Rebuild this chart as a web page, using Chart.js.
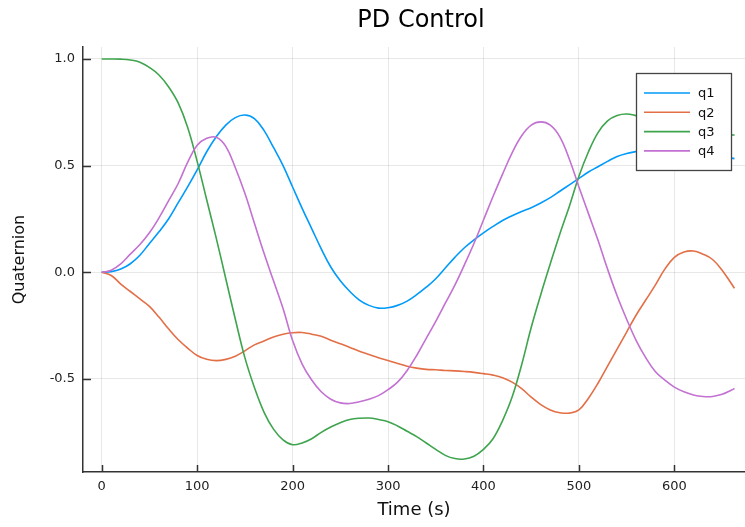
<!DOCTYPE html>
<html>
<head>
<meta charset="utf-8">
<script src="https://cdn.jsdelivr.net/npm/chart.js@4/dist/chart.umd.min.js"></script>
<style>
  html, body { margin: 0; padding: 0; background: #fff; }
  #wrap { width: 745px; height: 527px; }
</style>
</head>
<body>
<div id="wrap"><canvas id="chart" width="745" height="527"></canvas></div>
<script>
// tiempos (s) y series de cuaterniones
const times = [0, 10, 20, 30, 40, 50, 60, 70, 80, 90, 100, 110, 120, 130, 140, 150, 160, 170, 180, 190,
  200, 210, 220, 230, 240, 250, 260, 270, 280, 290, 300, 310, 320, 330, 340, 350, 360, 370, 380, 390,
  400, 410, 420, 430, 440, 450, 460, 470, 480, 490, 500, 510, 520, 530, 540, 550, 560, 570, 580, 590,
  600, 610, 620, 630, 640, 650, 660, 663];

const q1 = [0, 0.003, 0.015, 0.04, 0.08, 0.135, 0.19, 0.25, 0.325, 0.40, 0.48, 0.565, 0.635, 0.69, 0.725, 0.737, 0.72, 0.665, 0.585, 0.50,
  0.40, 0.30, 0.205, 0.11, 0.025, -0.04, -0.09, -0.13, -0.155, -0.168, -0.166, -0.155, -0.135, -0.105, -0.07, -0.03, 0.02, 0.07, 0.115, 0.152,
  0.185, 0.215, 0.243, 0.265, 0.285, 0.303, 0.325, 0.35, 0.38, 0.41, 0.44, 0.47, 0.495, 0.52, 0.543, 0.557, 0.566, 0.572, 0.577, 0.578,
  0.576, 0.571, 0.565, 0.558, 0.55, 0.542, 0.535, 0.533];

const q2 = [0, -0.015, -0.055, -0.09, -0.125, -0.16, -0.21, -0.265, -0.315, -0.355, -0.39, -0.408, -0.414, -0.408, -0.393, -0.368, -0.34, -0.322, -0.303, -0.29,
  -0.283, -0.282, -0.29, -0.30, -0.318, -0.335, -0.352, -0.37, -0.385, -0.40, -0.413, -0.427, -0.44, -0.449, -0.455, -0.457, -0.46, -0.462, -0.465, -0.469,
  -0.475, -0.482, -0.494, -0.515, -0.545, -0.585, -0.62, -0.645, -0.658, -0.66, -0.645, -0.59, -0.52, -0.44, -0.36, -0.28, -0.20, -0.13, -0.06, 0.015,
  0.07, 0.095, 0.10, 0.085, 0.06, 0.01, -0.055, -0.075];

const q3 = [1.0, 1.0, 0.999, 0.995, 0.985, 0.96, 0.925, 0.87, 0.795, 0.68, 0.52, 0.34, 0.16, -0.03, -0.22, -0.40, -0.54, -0.655, -0.735, -0.785,
  -0.808, -0.80, -0.78, -0.75, -0.725, -0.705, -0.69, -0.684, -0.683, -0.69, -0.70, -0.72, -0.745, -0.77, -0.80, -0.83, -0.858, -0.873, -0.875, -0.862,
  -0.83, -0.78, -0.695, -0.585, -0.433, -0.259, -0.105, 0.04, 0.18, 0.31, 0.45, 0.565, 0.655, 0.71, 0.735, 0.742, 0.734, 0.722, 0.71, 0.70,
  0.69, 0.68, 0.67, 0.662, 0.655, 0.648, 0.644, 0.643];

const q4 = [0, 0.01, 0.04, 0.085, 0.13, 0.185, 0.255, 0.335, 0.415, 0.515, 0.595, 0.628, 0.633, 0.59, 0.49, 0.37, 0.23, 0.09, -0.04, -0.17,
  -0.32, -0.43, -0.505, -0.56, -0.595, -0.612, -0.615, -0.607, -0.595, -0.578, -0.55, -0.515, -0.46, -0.39, -0.31, -0.23, -0.145, -0.06, 0.035, 0.135,
  0.245, 0.355, 0.46, 0.56, 0.64, 0.69, 0.705, 0.69, 0.635, 0.53, 0.40, 0.275, 0.15, 0.015, -0.11, -0.22, -0.32, -0.40, -0.465, -0.505,
  -0.538, -0.56, -0.575, -0.582, -0.582, -0.572, -0.552, -0.545];

const seriesNames = ["q1", "q2", "q3", "q4"];
const seriesColors = ["#009AFA", "#E36F47", "#3EA44E", "#C371D2"];
const xTicks = [0, 100, 200, 300, 400, 500, 600];
const yTicks = [-0.5, 0.0, 0.5, 1.0];

const FONT = "'DejaVu Sans', sans-serif";

const toPoints = (vals) => vals.map((v, i) => ({ x: times[i], y: v }));

// ticks hacia adentro, como en GR
const innerTicks = {
  id: "innerTicks",
  afterDatasetsDraw(chart) {
    const { ctx, chartArea, scales } = chart;
    ctx.save();
    ctx.strokeStyle = "#333";
    ctx.lineWidth = 1.5;
    ctx.beginPath();
    xTicks.forEach(v => {
      const px = Math.round(scales.x.getPixelForValue(v)) + 0.5;
      ctx.moveTo(px, chartArea.bottom);
      ctx.lineTo(px, chartArea.bottom - 7);
    });
    yTicks.forEach(v => {
      const py = Math.round(scales.y.getPixelForValue(v)) + 0.5;
      ctx.moveTo(chartArea.left, py);
      ctx.lineTo(chartArea.left + 8, py);
    });
    ctx.stroke();
    ctx.restore();
  }
};

// leyenda dentro del área del gráfico
const boxLegend = {
  id: "boxLegend",
  afterDatasetsDraw(chart) {
    const { ctx } = chart;
    const x0 = 636, y0 = 73, w = 95, h = 97;
    ctx.save();
    ctx.fillStyle = "#fff";
    ctx.fillRect(x0, y0, w, h);
    ctx.strokeStyle = "#444";
    ctx.lineWidth = 1.3;
    ctx.strokeRect(x0 + 0.5, y0 + 0.5, w, h);
    ctx.font = "13px " + FONT;
    ctx.textBaseline = "middle";
    chart.data.datasets.forEach((ds, i) => {
      const y = 93 + i * 19.3;
      ctx.strokeStyle = ds.borderColor;
      ctx.lineWidth = 1.6;
      ctx.beginPath();
      ctx.moveTo(644, y);
      ctx.lineTo(690, y);
      ctx.stroke();
      ctx.fillStyle = "#111";
      ctx.fillText(ds.label, 698, y + 1);
    });
    ctx.restore();
  }
};

const plotTitle = {
  id: "plotTitle",
  afterDraw(chart) {
    const { ctx } = chart;
    ctx.save();
    ctx.font = "24px " + FONT;
    ctx.fillStyle = "#000";
    ctx.textAlign = "center";
    ctx.textBaseline = "middle";
    ctx.fillText("PD Control", 421, 21);
    ctx.restore();
  }
};

const datasets = [q1, q2, q3, q4].map((vals, i) => ({
  label: seriesNames[i],
  data: toPoints(vals),
  borderColor: seriesColors[i],
  backgroundColor: seriesColors[i],
  borderWidth: 1.6,
  pointRadius: 0,
  fill: false,
  tension: 0.4,
  order: 4 - i
}));

new Chart(document.getElementById("chart"), {
  type: "line",
  data: { datasets },
  options: {
    responsive: false,
    animation: false,
    events: [],
    layout: { padding: { top: 47, right: 0, bottom: 0, left: 0 } },
    plugins: {
      legend: { display: false },
      title: { display: false },
      tooltip: { enabled: false }
    },
    scales: {
      x: {
        type: "linear",
        min: -19.6,
        max: 674,
        afterBuildTicks: (axis) => { axis.ticks = xTicks.map(v => ({ value: v })); },
        afterFit: (axis) => { axis.height = 55; },
        grid: { color: "rgba(0,0,0,0.09)", lineWidth: 1, drawTicks: false },
        border: { display: true, color: "#333", width: 1.5 },
        ticks: { padding: 7, color: "#222", font: { family: FONT, size: 13 }, maxRotation: 0 },
        title: { display: true, text: "Time (s)", color: "#111", font: { family: FONT, size: 18 }, padding: { top: 0, bottom: 6 } }
      },
      y: {
        type: "linear",
        min: -0.936,
        max: 1.056,
        afterBuildTicks: (axis) => { axis.ticks = yTicks.map(v => ({ value: v })); },
        afterFit: (axis) => { axis.width = 83; },
        grid: { color: "rgba(0,0,0,0.09)", lineWidth: 1, drawTicks: false },
        border: { display: true, color: "#333", width: 1.5 },
        ticks: { padding: 8, color: "#222", font: { family: FONT, size: 13 }, callback: (v) => Number(v).toFixed(1) },
        title: { display: true, text: "Quaternion", color: "#111", font: { family: FONT, size: 16 }, padding: { top: 10, bottom: 0 } }
      }
    }
  },
  plugins: [innerTicks, boxLegend, plotTitle]
});
</script>
</body>
</html>
